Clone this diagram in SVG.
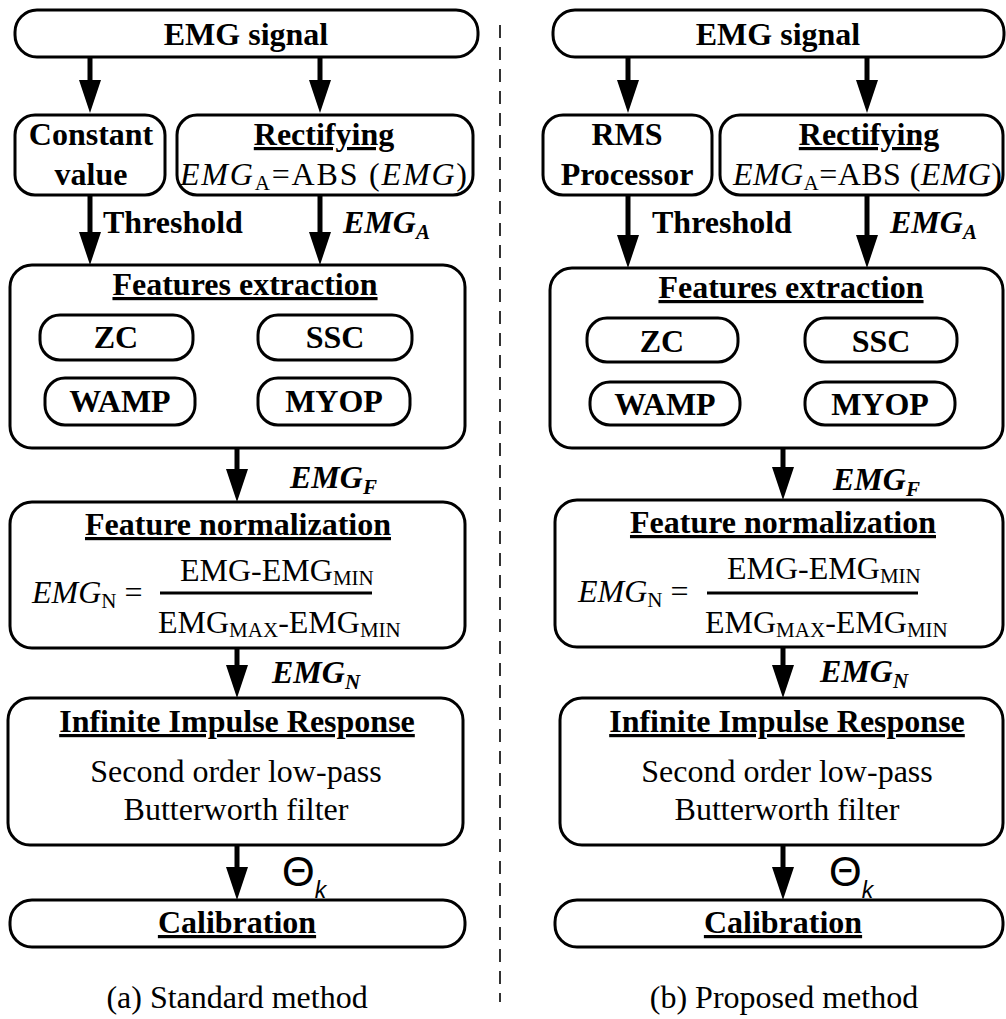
<svg xmlns="http://www.w3.org/2000/svg" width="1006" height="1019" viewBox="0 0 1006 1019">
<style>
.box{fill:#fff;stroke:#000;stroke-width:3}
.t{font-family:"Liberation Serif","Times New Roman",serif;font-size:32px;fill:#000}
.b{font-weight:bold}
.c{text-anchor:middle}
.u{text-decoration:underline}
.i{font-style:italic}
.sub{font-size:21px}
.th{font-family:"Liberation Sans",Arial,sans-serif;fill:#000}
.conn{stroke:#000;stroke-width:5;fill:none;marker-end:url(#ah)}
</style>
<defs>
<marker id="ah" markerUnits="userSpaceOnUse" markerWidth="34" markerHeight="24" viewBox="0 0 34 24" refX="0" refY="12" orient="auto">
<path d="M0,1 L33,12 L0,23 z" fill="#000"/>
</marker>
</defs>
<rect width="1006" height="1019" fill="#fff"/>
<line x1="500" y1="25" x2="500" y2="1002" stroke="#000" stroke-width="1.6" stroke-dasharray="13,9"/>

<!-- Left panel -->
<g id="a-emg"><rect class="box" x="15" y="10" width="463" height="47" rx="22"/><text class="t b c" x="246" y="45">EMG signal</text></g>
<g id="a-const"><rect class="box" x="15" y="115" width="150" height="80" rx="20"/><text class="t b c" x="91" y="145">Constant</text><text class="t b c" x="91" y="185">value</text></g>
<g id="a-rect"><rect class="box" x="177" y="115" width="296" height="80" rx="20"/><text class="t b c u" x="324" y="145">Rectifying</text><text class="t" x="180" y="185" textLength="287" lengthAdjust="spacing"><tspan class="i">EMG</tspan><tspan class="sub" dy="5">A</tspan><tspan dy="-5">=ABS (</tspan><tspan class="i">EMG</tspan>)</text></g>
<g id="a-feat"><rect class="box" x="10" y="265" width="455" height="183" rx="22"/><text class="t b c u" x="245" y="295">Features extraction</text></g>
<g id="a-zc"><rect class="box" x="40" y="315" width="153" height="45" rx="20"/><text class="t b c" x="116" y="348">ZC</text></g>
<g id="a-ssc"><rect class="box" x="258" y="315" width="154" height="45" rx="20"/><text class="t b c" x="335" y="348">SSC</text></g>
<g id="a-wamp"><rect class="box" x="45" y="378" width="150" height="47" rx="20"/><text class="t b c" x="120" y="412">WAMP</text></g>
<g id="a-myop"><rect class="box" x="258" y="378" width="152" height="47" rx="20"/><text class="t b c" x="334" y="412">MYOP</text></g>
<g id="a-norm"><rect class="box" x="10" y="502" width="455" height="146" rx="22"/><text class="t b c u" x="238" y="535">Feature normalization</text>
<text class="t" x="32" y="603"><tspan class="i">EMG</tspan><tspan class="sub" dy="5">N</tspan><tspan dy="-5"> =</tspan></text>
<line x1="160" y1="593" x2="372" y2="593" stroke="#000" stroke-width="3"/>
<text class="t" x="180" y="581">EMG-EMG<tspan class="sub" dy="4">MIN</tspan></text>
<text class="t" x="158" y="633">EMG<tspan class="sub" dy="4">MAX</tspan><tspan dy="-4">-EMG</tspan><tspan class="sub" dy="4">MIN</tspan></text></g>
<g id="a-iir"><rect class="box" x="8" y="698" width="455" height="147" rx="22"/><text class="t b c u" x="237" y="732">Infinite Impulse Response</text><text class="t c" x="236" y="782">Second order low-pass</text><text class="t c" x="236" y="820">Butterworth filter</text></g>
<g id="a-cal"><rect class="box" x="10" y="900" width="455" height="47" rx="22"/><text class="t b c u" x="237" y="933">Calibration</text></g>
<text class="t c" x="237" y="1008">(a) Standard method</text>

<!-- Right panel -->
<g id="b-emg"><rect class="box" x="553" y="10" width="451" height="47" rx="22"/><text class="t b c" x="778" y="45">EMG signal</text></g>
<g id="b-rms"><rect class="box" x="543" y="115" width="169" height="80" rx="20"/><text class="t b c" x="627" y="145">RMS</text><text class="t b c" x="627" y="185">Processor</text></g>
<g id="b-rect"><rect class="box" x="720" y="115" width="283" height="80" rx="20"/><text class="t b c u" x="869" y="145">Rectifying</text><text class="t" x="733" y="185" textLength="269" lengthAdjust="spacing"><tspan class="i">EMG</tspan><tspan class="sub" dy="5">A</tspan><tspan dy="-5">=ABS (</tspan><tspan class="i">EMG</tspan>)</text></g>
<g id="b-feat"><rect class="box" x="550" y="268" width="453" height="180" rx="22"/><text class="t b c u" x="791" y="298">Features extraction</text></g>
<g id="b-zc"><rect class="box" x="587" y="318" width="151" height="44" rx="20"/><text class="t b c" x="662" y="352">ZC</text></g>
<g id="b-ssc"><rect class="box" x="805" y="318" width="152" height="44" rx="20"/><text class="t b c" x="881" y="352">SSC</text></g>
<g id="b-wamp"><rect class="box" x="590" y="382" width="150" height="43" rx="20"/><text class="t b c" x="665" y="415">WAMP</text></g>
<g id="b-myop"><rect class="box" x="805" y="382" width="150" height="43" rx="20"/><text class="t b c" x="880" y="415">MYOP</text></g>
<g id="b-norm"><rect class="box" x="555" y="500" width="448" height="147" rx="22"/><text class="t b c u" x="783" y="533">Feature normalization</text>
<text class="t" x="578" y="602"><tspan class="i">EMG</tspan><tspan class="sub" dy="5">N</tspan><tspan dy="-5"> =</tspan></text>
<line x1="707" y1="593" x2="918" y2="593" stroke="#000" stroke-width="3"/>
<text class="t" x="727" y="579">EMG-EMG<tspan class="sub" dy="4">MIN</tspan></text>
<text class="t" x="705" y="633">EMG<tspan class="sub" dy="4">MAX</tspan><tspan dy="-4">-EMG</tspan><tspan class="sub" dy="4">MIN</tspan></text></g>
<g id="b-iir"><rect class="box" x="560" y="698" width="443" height="147" rx="22"/><text class="t b c u" x="787" y="732">Infinite Impulse Response</text><text class="t c" x="787" y="782">Second order low-pass</text><text class="t c" x="787" y="820">Butterworth filter</text></g>
<g id="b-cal"><rect class="box" x="555" y="900" width="448" height="47" rx="22"/><text class="t b c u" x="783" y="933">Calibration</text></g>
<text class="t c" x="784" y="1008">(b) Proposed method</text>

<!-- Connectors -->
<g id="connectors">
<line class="conn" x1="90" y1="57" x2="90" y2="80"/>
<line class="conn" x1="320" y1="57" x2="320" y2="80"/>
<line class="conn" x1="90" y1="195" x2="90" y2="232"/>
<line class="conn" x1="320" y1="195" x2="320" y2="232"/>
<line class="conn" x1="237" y1="448" x2="237" y2="469"/>
<line class="conn" x1="237" y1="648" x2="237" y2="665"/>
<line class="conn" x1="237" y1="845" x2="237" y2="867"/>
<line class="conn" x1="628" y1="57" x2="628" y2="80"/>
<line class="conn" x1="867" y1="57" x2="867" y2="80"/>
<line class="conn" x1="628" y1="195" x2="628" y2="235"/>
<line class="conn" x1="867" y1="195" x2="867" y2="235"/>
<line class="conn" x1="783" y1="448" x2="783" y2="467"/>
<line class="conn" x1="783" y1="647" x2="783" y2="665"/>
<line class="conn" x1="783" y1="845" x2="783" y2="867"/>
</g>

<!-- Connector labels -->
<text class="t b" x="103" y="233">Threshold</text>
<text class="t b i" x="343" y="233">EMG<tspan class="sub" dy="6">A</tspan></text>
<text class="t b i" x="290" y="488">EMG<tspan class="sub" dy="6">F</tspan></text>
<text class="t b i" x="272" y="683">EMG<tspan class="sub" dy="6">N</tspan></text>
<text class="th" x="282" y="886" font-size="42">Θ<tspan font-size="23" font-style="italic" dy="12">k</tspan></text>
<text class="t b" x="652" y="233">Threshold</text>
<text class="t b i" x="890" y="233">EMG<tspan class="sub" dy="6">A</tspan></text>
<text class="t b i" x="833" y="490">EMG<tspan class="sub" dy="6">F</tspan></text>
<text class="t b i" x="820" y="682">EMG<tspan class="sub" dy="6">N</tspan></text>
<text class="th" x="829" y="886" font-size="42">Θ<tspan font-size="23" font-style="italic" dy="12">k</tspan></text>
</svg>
